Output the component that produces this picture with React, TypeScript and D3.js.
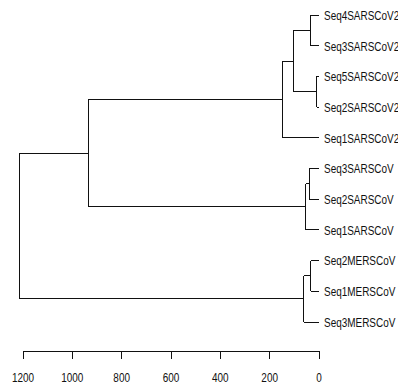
import React from "react";
import * as d3 from "d3";

const leafLabels = [
  "Seq4SARSCoV2",
  "Seq3SARSCoV2",
  "Seq5SARSCoV2",
  "Seq2SARSCoV2",
  "Seq1SARSCoV2",
  "Seq3SARSCoV",
  "Seq2SARSCoV",
  "Seq1SARSCoV",
  "Seq2MERSCoV",
  "Seq1MERSCoV",
  "Seq3MERSCoV",
];

// hclust-style merges: negative = leaf index (-(i+1)), positive = earlier merge (1-based)
const mergeLeft = [-3, -1, -9, -6, 4, 3, 2, 7, 8, 9];
const mergeRight = [-4, -2, -10, -7, -8, -11, 1, -5, 5, 6];
const mergeHeight = [9, 34, 34, 39, 54, 61, 104, 149, 935, 1216];

const axisTicks = [1200, 1000, 800, 600, 400, 200, 0];

const W = 398;
const H = 387;

export default function App() {
  const x = d3.scaleLinear().domain([0, 1200]).range([319, 23]);
  const y = d3.scalePoint<string>().domain(leafLabels).range([15, 322]);

  const nodeY: number[] = [];
  const nodeX: number[] = [];
  const pos = (ref: number) => {
    if (ref < 0) {
      const i = -ref - 1;
      return { px: x(0), py: y(leafLabels[i]) as number };
    }
    return { px: nodeX[ref - 1], py: nodeY[ref - 1] };
  };

  const segs: { x1: number; y1: number; x2: number; y2: number }[] = [];
  mergeHeight.forEach((h, k) => {
    const a = pos(mergeLeft[k]);
    const b = pos(mergeRight[k]);
    const mx = x(h);
    nodeX[k] = mx;
    nodeY[k] = (a.py + b.py) / 2;
    segs.push({ x1: a.px, y1: a.py, x2: mx, y2: a.py });
    segs.push({ x1: b.px, y1: b.py, x2: mx, y2: b.py });
    segs.push({ x1: mx, y1: a.py, x2: mx, y2: b.py });
  });

  const axisY = 351;
  const font = "'Liberation Sans', Arial, Helvetica, sans-serif";

  return (
    <svg
      width={W}
      height={H}
      style={{ position: "absolute", left: 0, top: 0, background: "#fff" }}
    >
      <g stroke="#111" strokeWidth={1} fill="none" shapeRendering="crispEdges">
        {segs.map((s, i) => (
          <line key={i} x1={s.x1} y1={s.y1} x2={s.x2} y2={s.y2} />
        ))}
      </g>
      <g fontFamily={font} fontSize={12} fill="#111">
        {leafLabels.map((l) => (
          <text
            key={l}
            transform={`translate(324,${(y(l) as number) + 4.8}) scale(0.83,1)`}
          >
            {l}
          </text>
        ))}
      </g>
      <g stroke="#111" strokeWidth={1} shapeRendering="crispEdges">
        <line x1={x(1200)} x2={x(0)} y1={axisY} y2={axisY} />
        {axisTicks.map((t) => (
          <line key={t} x1={x(t)} x2={x(t)} y1={axisY} y2={axisY + 8} />
        ))}
      </g>
      <g fontFamily={font} fontSize={12} fill="#111" textAnchor="middle">
        {axisTicks.map((t) => (
          <text key={t} transform={`translate(${x(t)},382) scale(0.83,1)`}>
            {t}
          </text>
        ))}
      </g>
    </svg>
  );
}
